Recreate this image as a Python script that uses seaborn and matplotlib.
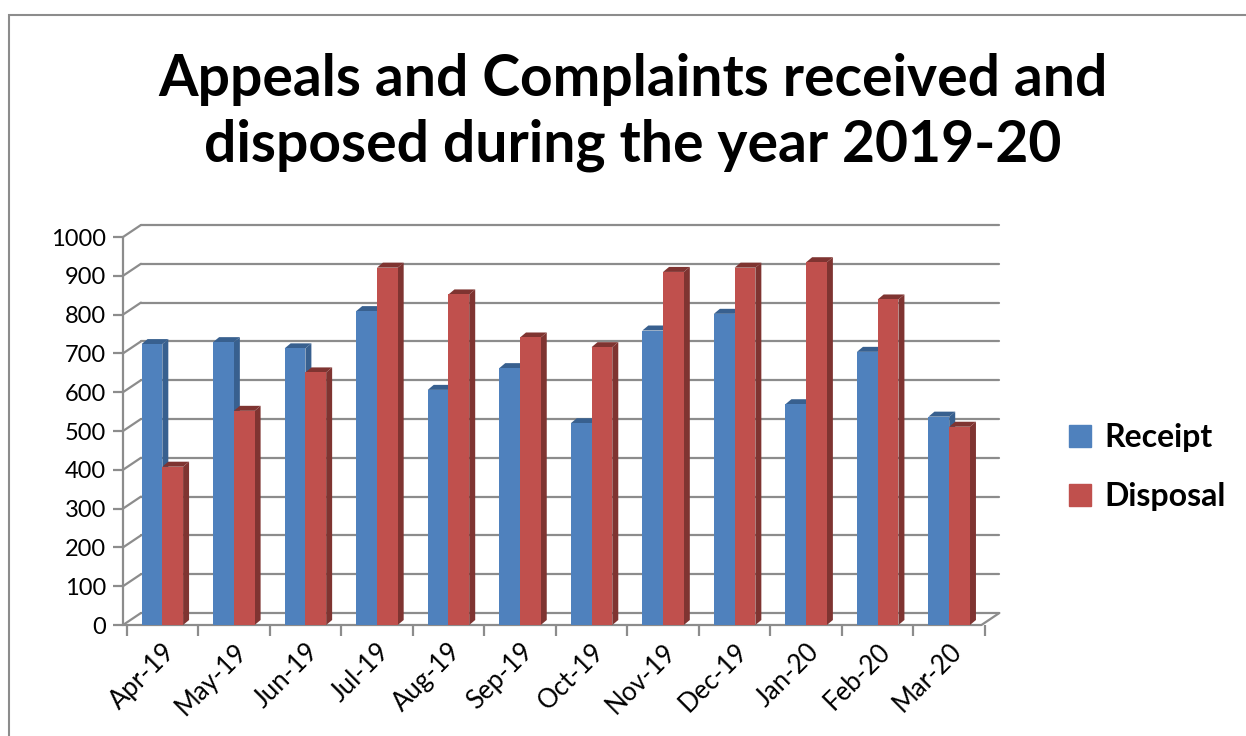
import matplotlib
matplotlib.use("Agg")
import matplotlib.pyplot as plt
from matplotlib.patches import Polygon, Rectangle
from matplotlib.lines import Line2D
import seaborn as sns
import pandas as pd
import numpy as np

months = ['Apr-19', 'May-19', 'Jun-19', 'Jul-19', 'Aug-19', 'Sep-19',
          'Oct-19', 'Nov-19', 'Dec-19', 'Jan-20', 'Feb-20', 'Mar-20']
receipt = [724, 729, 713, 809, 606, 662, 520, 759, 802, 569, 704, 537]
disposal = [408, 552, 651, 921, 852, 741, 716, 910, 921, 935, 839, 511]
series = ['Receipt', 'Disposal']
colors = {'Receipt': '#4F81BD', 'Disposal': '#C0504D'}
side_colors = {'Receipt': '#38608F', 'Disposal': '#7F3431'}

df = pd.DataFrame({
    'month': months * 2,
    'value': receipt + disposal,
    'series': ['Receipt'] * len(months) + ['Disposal'] * len(months),
})

sns.set_style('white')
plt.rcParams['font.family'] = ['Lato', 'DejaVu Sans']
plt.rcParams['text.color'] = 'black'
plt.rcParams['xtick.color'] = 'black'
plt.rcParams['ytick.color'] = 'black'

fig = plt.figure(figsize=(12.46, 7.36), dpi=100)
ax = fig.add_axes([123 / 1246, 1 - 625 / 736, (985 - 123) / 1246, (625 - 237) / 736])

sns.barplot(data=df, x='month', y='value', hue='series', hue_order=series,
            palette=colors, width=0.58, saturation=1, ax=ax, legend=False,
            edgecolor='none', linewidth=0)

ax.set_xlim(-0.55, 11.45)
ax.set_ylim(0, 1000)
ax.set_yticks(np.arange(0, 1001, 100))
ax.set_xlabel('')
ax.set_ylabel('')
for s in ax.spines.values():
    s.set_visible(False)

# pixel depth of the fake 3D effect
fig.canvas.draw()
px_x = ax.transData.transform((1, 0))[0] - ax.transData.transform((0, 0))[0]
px_y = ax.transData.transform((0, 100))[1] - ax.transData.transform((0, 0))[1]
wall_dx, wall_dy = 18 / px_x, 12 * 100 / px_y
bar_dx, bar_dy = 6 / px_x, 5 * 100 / px_y

grid_kw = dict(color='#8C8C8C', lw=1.6, clip_on=False, zorder=0.5)
x0, x1 = ax.get_xlim()
for v in ax.get_yticks():
    ax.add_line(Line2D([x0 + wall_dx, x1 + wall_dx], [v + wall_dy, v + wall_dy], **grid_kw))
    ax.add_line(Line2D([x0, x0 + wall_dx], [v, v + wall_dy], **grid_kw))
# floor edges
ax.add_line(Line2D([x0, x1], [0, 0], **grid_kw))
ax.add_line(Line2D([x1, x1 + wall_dx], [0, wall_dy], **grid_kw))
ax.add_line(Line2D([x0, x0], [0, 1000], **grid_kw))

# side and top faces of the columns
for container, name in zip(ax.containers, series):
    for p in container.patches:
        bx, bw, bh = p.get_x(), p.get_width(), p.get_height()
        side = Polygon([(bx + bw, 0), (bx + bw + bar_dx, bar_dy),
                        (bx + bw + bar_dx, bh + bar_dy), (bx + bw, bh)],
                       closed=True, fc=side_colors[name], ec='none', zorder=0.9)
        top = Polygon([(bx, bh), (bx + bw, bh), (bx + bw + bar_dx, bh + bar_dy),
                       (bx + bar_dx, bh + bar_dy)],
                      closed=True, fc=side_colors[name], ec='none', zorder=0.9)
        ax.add_patch(side)
        ax.add_patch(top)

ax.tick_params(axis='y', which='both', length=7, color='#8C8C8C', width=1.6,
               labelsize=17, pad=5, left=True)
ax.set_xticks(np.arange(-0.5, 12, 1), minor=True)
ax.tick_params(axis='x', which='minor', length=8, color='#8C8C8C', width=1.6, bottom=True)
ax.tick_params(axis='x', which='major', length=0, labelsize=18.5, pad=10)
plt.setp(ax.get_xticklabels(), rotation=45, ha='right', rotation_mode='anchor')

fig.suptitle('Appeals and Complaints received and\ndisposed during the year 2019-20',
             x=0.508, y=0.928, fontsize=41, fontweight='bold', linespacing=1.3,
             color='black')

handles = [Line2D([], [], marker='s', ls='none', markersize=16, color=colors[s]) for s in series]
leg = fig.legend(handles, series, loc='center left', bbox_to_anchor=(1066 / 1246, 1 - 467 / 736),
                 frameon=False, fontsize=23, handletextpad=0.3, labelspacing=0.95,
                 handlelength=0.9, borderpad=0, borderaxespad=0)
for t in leg.get_texts():
    t.set_fontweight('bold')

fig.patches.append(Rectangle((9 / 1246, -0.05), 1.1, 1 - 15 / 736 + 0.05,
                             transform=fig.transFigure, fill=False,
                             ec='#8C8C8C', lw=1.5))

fig.savefig('out.png', dpi=100)
plt.close()
